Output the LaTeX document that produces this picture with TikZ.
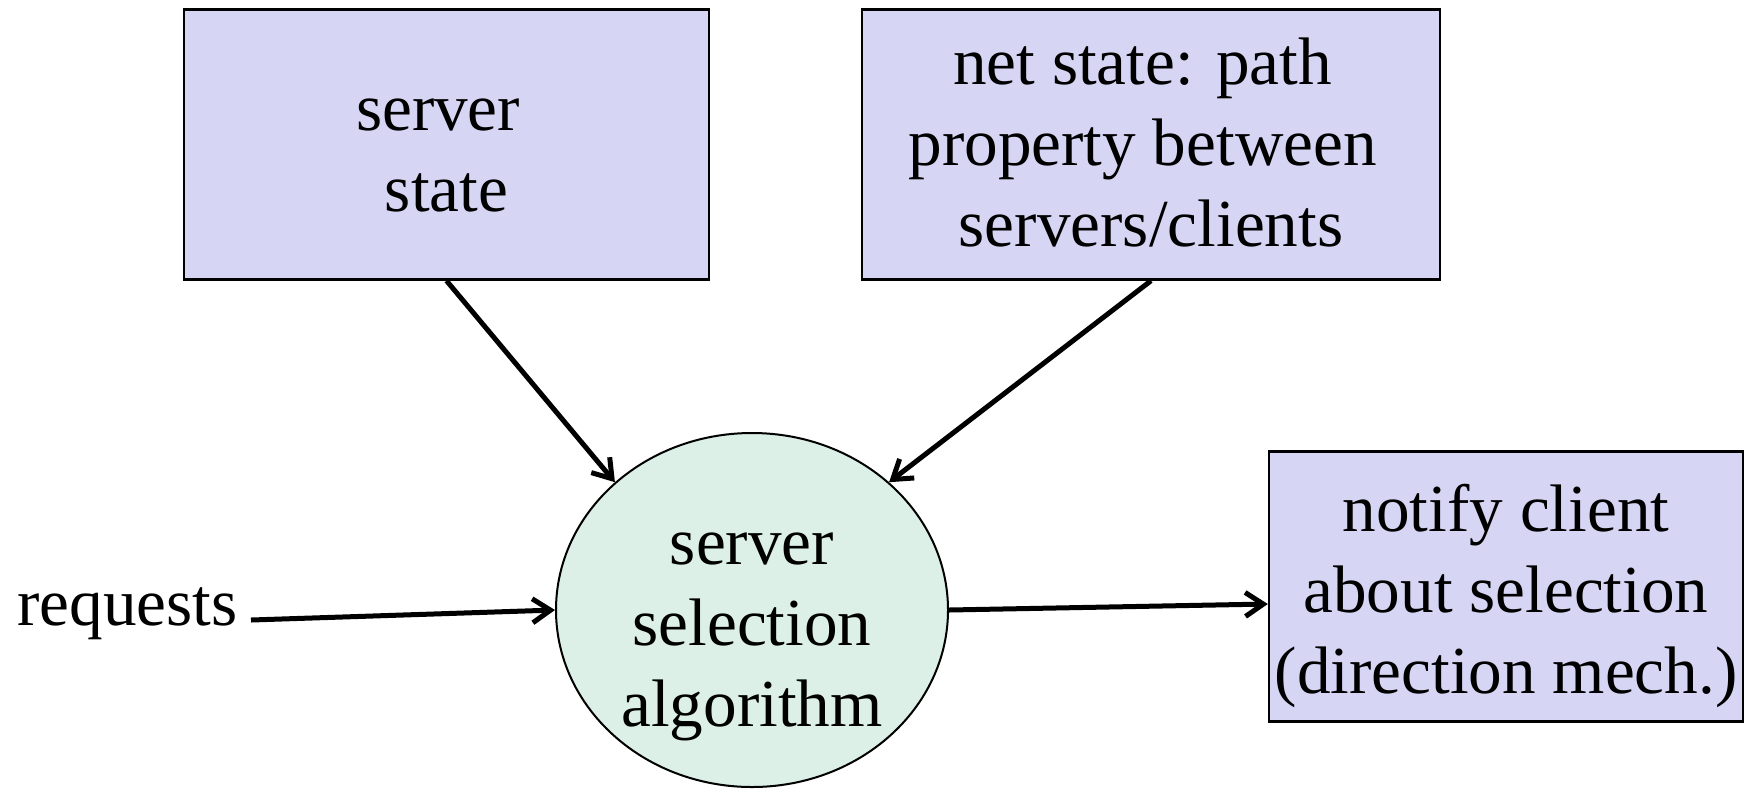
\documentclass[tikz,border=0pt]{standalone}
\usepackage{fontspec}
\setmainfont{Liberation Serif}
\usetikzlibrary{shapes.geometric,arrows.meta}
\definecolor{boxfill}{RGB}{214,214,244}
\definecolor{algfill}{RGB}{220,240,232}
\newcommand{\tsp}{\kern0.25em}
\tikzset{
  stateblock/.style={draw=black, line width=1.2pt, fill=boxfill, rectangle,
    minimum height=135pt, inner sep=0pt},
  algblock/.style={draw=black, line width=1pt, fill=algfill, ellipse,
    minimum width=196pt, minimum height=177pt, inner sep=0pt},
  blocktext/.style={inner sep=0pt, align=center,
    font=\fontsize{33.6pt}{40.5pt}\selectfont},
  plainlabel/.style={inner sep=0pt, font=\fontsize{33.6pt}{40.5pt}\selectfont},
  flow/.style={line width=2.5pt, -{Straight Barb[length=9pt,width=12pt]}}
}
\begin{document}
\begin{tikzpicture}[x=0.5pt,y=-0.5pt]
  \useasboundingbox (0,0) rectangle (1745,789);

  % input blocks
  \node[stateblock, minimum width=262.5pt] (srv) at (446.5,144.5) {};
  \node[blocktext] (srvtext) at (446.5,155.5) {server\tsp\\state};
  \node[stateblock, minimum width=289pt] (net) at (1151,144.5) {};
  \node[blocktext] (nettext) at (1151,143)
    {net state: path\tsp\\property between\tsp\\servers/clients};

  % selection algorithm
  \node[algblock] (alg) at (752,610) {};
  \node[blocktext] (algtext) at (752,637) {server\\selection\\algorithm};

  % output block
  \node[stateblock, minimum width=237pt] (out) at (1506,586.5) {};
  \node[blocktext] (outtext) at (1506,595.5)
    {notify client\\about selection\\(direction mech.)};

  % incoming requests
  \node[plainlabel, anchor=base east] (req) at (238,625) {requests};

  % connectors
  \draw[flow] (srv.south) -- (alg.137);
  \draw[flow] (net.south) -- (alg.43);
  \draw[flow] ([shift={(6.5pt,2.5pt)}]req.base east) -- (alg.west);
  \draw[flow] (alg.east) -- ([yshift=-8.75pt]out.west);
\end{tikzpicture}
\end{document}
